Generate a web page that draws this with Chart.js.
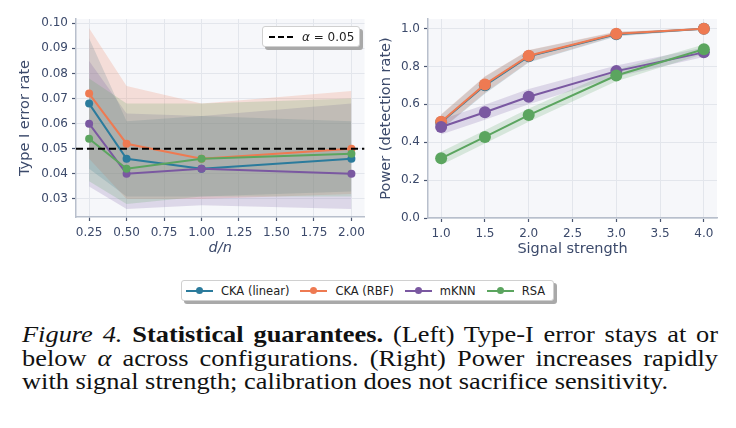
<!DOCTYPE html>
<html>
<head>
<meta charset="utf-8">
<script src="https://cdn.jsdelivr.net/npm/chart.js@4.4.1/dist/chart.umd.min.js"></script>
<style>
  html, body { margin: 0; padding: 0; background: #fff; }
  #fig { position: relative; width: 736px; height: 428px; overflow: hidden; }
  .box { position: absolute; }
  .lgd {
    position: absolute; background: #fff; border: 1px solid #d0d0d0; border-radius: 3px;
    box-shadow: 3px 3px 0 #a9a9a9; font-family: "DejaVu Sans", sans-serif; color: #222;
    display: flex; align-items: center; box-sizing: border-box;
  }
  .item { display: flex; align-items: center; font-size: 11.5px; white-space: nowrap; }
  .mark { position: relative; width: 27px; height: 2px; margin-right: 8px; }
  .mark i { position: absolute; left: 10px; top: -3px; width: 7px; height: 7px; border-radius: 50%; }
  .dash { width: 24px; height: 0; border-top: 2px dashed #000; margin-right: 9px; }
  #caption {
    position: absolute; left: 22px; top: 323px; transform-origin: 0 0;
    font-family: "Liberation Serif", "Times New Roman", serif; font-size: 22.5px; line-height: 23.5px;
    color: #111;
  }
  #caption .ln { white-space: nowrap; text-align: justify; text-align-last: justify; }
  #caption .ln.last { text-align: left; text-align-last: left; }
</style>
</head>
<body>
<div id="fig">
  <div class="box" style="left:0;top:0;width:370px;height:270px"><canvas id="chartLeft"></canvas></div>
  <div class="box" style="left:370px;top:0;width:366px;height:270px"><canvas id="chartRight"></canvas></div>

  <div class="lgd" style="left:262px;top:26px;width:98px;height:21px;padding-left:6px">
    <span class="dash"></span><span style="font-size:12px"><i>α</i> = 0.05</span>
  </div>

  <div class="lgd" id="bottomLegend" style="left:181px;top:280px;width:373px;height:21px;padding-left:4px"></div>

  <div id="caption">
    <div class="ln"><i>Figure 4.</i> <b>Statistical guarantees.</b> (Left) Type-I error stays at or</div>
    <div class="ln">below <i>α</i> across configurations. (Right) Power increases rapidly</div>
    <div class="ln last"><span id="lastLine">with signal strength; calibration does not sacrifice sensitivity.</span></div>
  </div>
</div>

<script>
// ---- data ----
var names = ['CKA (linear)', 'CKA (RBF)', 'mKNN', 'RSA'];
var colors = ['#2b7b9c', '#ee7a52', '#7a58a1', '#5ba55f'];

// left: type I error vs d/n
var dn = [0.25, 0.5, 1.0, 2.0];
var err_linear = [0.068, 0.046, 0.042, 0.046];
var err_rbf    = [0.072, 0.052, 0.046, 0.050];
var err_mknn   = [0.060, 0.040, 0.042, 0.040];
var err_rsa    = [0.054, 0.042, 0.046, 0.048];
var errHi_linear = [0.094, 0.061, 0.063, 0.061];
var errLo_linear = [0.042, 0.031, 0.031, 0.033];
var errHi_rbf    = [0.098, 0.075, 0.068, 0.073];
var errLo_rbf    = [0.046, 0.030, 0.030, 0.032];
var errHi_mknn   = [0.085, 0.064, 0.063, 0.068];
var errLo_mknn   = [0.035, 0.026, 0.0275, 0.026];
var errHi_rsa    = [0.078, 0.068, 0.068, 0.070];
var errLo_rsa    = [0.037, 0.028, 0.031, 0.031];
var alpha = 0.05;
var leftXTicks = [0.25, 0.5, 0.75, 1.0, 1.25, 1.5, 1.75, 2.0];
var leftYTicks = [0.03, 0.04, 0.05, 0.06, 0.07, 0.08, 0.09, 0.10];

// right: power vs signal strength
var signal = [1.0, 1.5, 2.0, 3.0, 4.0];
var pow_linear = [0.505, 0.700, 0.853, 0.970, 0.998];
var pow_rbf    = [0.508, 0.705, 0.856, 0.972, 0.999];
var pow_mknn   = [0.480, 0.558, 0.640, 0.775, 0.874];
var pow_rsa    = [0.315, 0.428, 0.543, 0.752, 0.890];
var powHi_linear = [0.545, 0.745, 0.885, 0.982, 1.000];
var powLo_linear = [0.465, 0.655, 0.820, 0.958, 0.994];
var powHi_rbf    = [0.548, 0.748, 0.887, 0.984, 1.000];
var powLo_rbf    = [0.468, 0.660, 0.823, 0.960, 0.996];
var powHi_mknn   = [0.520, 0.598, 0.680, 0.805, 0.899];
var powLo_mknn   = [0.440, 0.518, 0.600, 0.745, 0.849];
var powHi_rsa    = [0.350, 0.463, 0.578, 0.782, 0.915];
var powLo_rsa    = [0.280, 0.393, 0.508, 0.722, 0.865];
var rightXTicks = [1.0, 1.5, 2.0, 2.5, 3.0, 3.5, 4.0];
var rightYTicks = [0.0, 0.2, 0.4, 0.6, 0.8, 1.0];

var tickCol = '#3c4a6b';
var font = "'DejaVu Sans', sans-serif";

function pts(xs, ys) {
  return xs.map(function (x, i) { return { x: x, y: ys[i] }; });
}
function rgba(hex, a) {
  var n = parseInt(hex.slice(1), 16);
  return 'rgba(' + (n >> 16) + ',' + ((n >> 8) & 255) + ',' + (n & 255) + ',' + a + ')';
}

// bands first (drawn beneath), lines on top; later series drawn over earlier ones
function buildDatasets(xs, means, his, los, radius) {
  var ds = [];
  for (var i = 0; i < means.length; i++) {
    ds.push({ data: pts(xs, his[i]), borderWidth: 0, pointRadius: 0, fill: false, order: 40 - i });
    ds.push({ data: pts(xs, los[i]), borderWidth: 0, pointRadius: 0, fill: '-1',
              backgroundColor: rgba(colors[i], 0.2), order: 40 - i });
  }
  for (var j = 0; j < means.length; j++) {
    ds.push({ data: pts(xs, means[j]), borderColor: colors[j], backgroundColor: colors[j],
              borderWidth: 2, pointRadius: radius, pointBorderWidth: 0, fill: false, order: 20 - j });
  }
  return ds;
}

var areaBg = {
  id: 'areaBg',
  beforeDraw: function (chart) {
    var a = chart.chartArea, ctx = chart.ctx;
    ctx.save();
    ctx.fillStyle = '#f6f7fa';
    ctx.fillRect(a.left, a.top, a.right - a.left, a.bottom - a.top);
    ctx.restore();
  }
};

function axis(min, max, ticks, decimals, title, italic, fitSize, titlePad, isX) {
  return {
    type: 'linear', min: min, max: max,
    afterBuildTicks: function (s) { s.ticks = ticks.map(function (v) { return { value: v }; }); },
    afterFit: function (s) { if (isX) s.height = fitSize; else s.width = fitSize; },
    ticks: { color: tickCol, font: { family: font, size: 12 }, padding: isX ? 5 : 4,
             callback: function (v) { return Number(v).toFixed(decimals); } },
    grid: { color: '#e3e6ec', lineWidth: 1, tickColor: '#4a5670', tickLength: 4, tickWidth: 1.2 },
    border: { color: '#b8bfcc', width: 1.5 },
    title: { display: true, text: title, color: tickCol,
             font: { family: font, size: 14.5, style: italic ? 'italic' : 'normal' },
             padding: isX ? { bottom: titlePad } : { top: titlePad } }
  };
}

var leftSets = buildDatasets(dn,
  [err_linear, err_rbf, err_mknn, err_rsa],
  [errHi_linear, errHi_rbf, errHi_mknn, errHi_rsa],
  [errLo_linear, errLo_rbf, errLo_mknn, errLo_rsa], 4);
leftSets.push({ data: [{ x: 0.1625, y: alpha }, { x: 2.0875, y: alpha }], borderColor: '#000',
                borderWidth: 2, borderDash: [7, 4], pointRadius: 0, fill: false, order: 0 });

new Chart(document.getElementById('chartLeft'), {
  type: 'line',
  data: { datasets: leftSets },
  options: {
    responsive: true, maintainAspectRatio: false, animation: false,
    layout: { padding: { left: 0, right: 5, top: 19, bottom: 0 } },
    plugins: { legend: { display: false }, tooltip: { enabled: false } },
    scales: {
      x: axis(0.1625, 2.0875, leftXTicks, 2, 'd/n', true, 53, 13, true),
      y: axis(0.0228, 0.1017, leftYTicks, 2, 'Type I error rate', false, 76, 17, false)
    }
  },
  plugins: [areaBg]
});

var rightSets = buildDatasets(signal,
  [pow_linear, pow_rbf, pow_mknn, pow_rsa],
  [powHi_linear, powHi_rbf, powHi_mknn, powHi_rsa],
  [powLo_linear, powLo_rbf, powLo_mknn, powLo_rsa], 6);

new Chart(document.getElementById('chartRight'), {
  type: 'line',
  data: { datasets: rightSets },
  options: {
    responsive: true, maintainAspectRatio: false, animation: false,
    layout: { padding: { left: 0, right: 19, top: 19, bottom: 0 } },
    plugins: { legend: { display: false }, tooltip: { enabled: false } },
    scales: {
      x: axis(0.85, 4.15, rightXTicks, 1, 'Signal strength', false, 52, 12, true),
      y: axis(0, 1.05, rightYTicks, 1, 'Power (detection rate)', false, 58, 8, false)
    }
  },
  plugins: [areaBg]
});

// shared legend
var lg = document.getElementById('bottomLegend');
names.forEach(function (n, i) {
  var it = document.createElement('span');
  it.className = 'item';
  it.style.marginRight = i < names.length - 1 ? '11px' : '0';
  it.innerHTML = '<span class="mark" style="background:' + colors[i] + '"><i style="background:' +
    colors[i] + '"></i></span>' + n;
  lg.appendChild(it);
});

// caption: the figure's serif text is set wider than the browser font, stretch it to fit
var cap = document.getElementById('caption');
var lastW = document.getElementById('lastLine').getBoundingClientRect().width;
var sx = 646 / lastW;
cap.style.width = (696 / sx) + 'px';
cap.style.transform = 'scaleX(' + sx + ')';
</script>
</body>
</html>
